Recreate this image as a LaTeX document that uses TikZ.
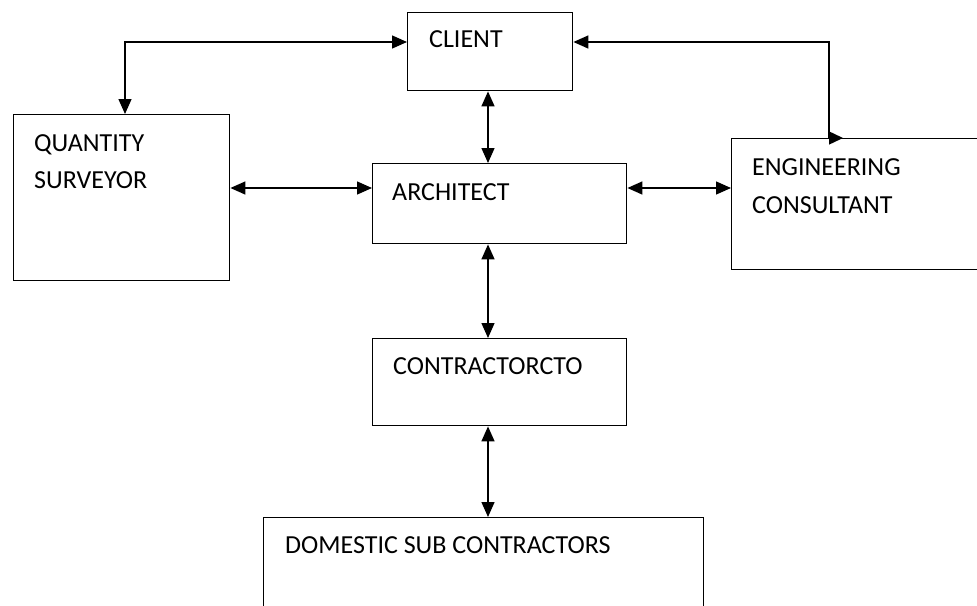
\documentclass[tikz,border=0pt]{standalone}
\usepackage{fontspec}
\setmainfont{Carlito}
\usetikzlibrary{arrows.meta,calc}

\begin{document}
\begin{tikzpicture}[x=1pt,y=-1pt,
  box/.style={draw=black,line width=1.4pt,rectangle,inner sep=0pt,anchor=north west},
  lbl/.style={anchor=base west,inner sep=0pt,font=\fontsize{26}{31}\selectfont},
  link/.style={line width=1.4pt,{Triangle[length=15pt,width=13pt]}-{Triangle[length=15pt,width=13pt]}},
  backlink/.style={line width=1.4pt,{Triangle[length=15pt,width=13pt]}-},
  tip/.style={line width=1.4pt,-{Triangle[length=14pt,width=13pt]}}]
\useasboundingbox (0,0) rectangle (977,605);

% boxes
\node[box,minimum width=165pt,minimum height=78pt]  (client) at (407,12)  {};
\node[box,minimum width=216pt,minimum height=166pt] (qs)     at (13,114)  {};
\node[box,minimum width=254pt,minimum height=80pt]  (arch)   at (372,163) {};
\node[box,minimum width=259pt,minimum height=131pt] (eng)    at (731,138) {};
\node[box,minimum width=254pt,minimum height=87pt]  (contr)  at (372,338) {};
\node[box,minimum width=440pt,minimum height=110pt] (dom)    at (263,517) {};

% labels
\node[lbl] (clientT) at (429,47)  {CLIENT};
\node[lbl] (qsT1)    at (34,151)  {QUANTITY};
\node[lbl] (qsT2)    at (34,188)  {SURVEYOR};
\node[lbl] (archT)   at (392,200) {ARCHITECT};
\node[lbl] (engT1)   at (752,175) {ENGINEERING};
\node[lbl] (engT2)   at (752,213) {CONSULTANT};
\node[lbl] (contrT)  at (393,374) {CONTRACTORCTO};
\node[lbl] (domT)    at (285,553) {DOMESTIC SUB CONTRACTORS};

% guide lines for the connectors
\coordinate (vcol) at (488,0);
\coordinate (hrow) at (0,188);
\coordinate (qscol) at (125,0);
\coordinate (engcol) at (829,0);
\coordinate (toprow) at (0,42);

% connectors
\draw[link] (qs.north -| qscol) |- (client.west |- toprow);
\draw[backlink] (client.east |- toprow) -| (eng.north -| engcol);
\draw[tip] (eng.north -| engcol) -- ++(14,0);
\draw[link] (client.south -| vcol) -- (arch.north -| vcol);
\draw[link] (qs.east |- hrow) -- (arch.west |- hrow);
\draw[link] (arch.east |- hrow) -- (eng.west |- hrow);
\draw[link] (arch.south -| vcol) -- (contr.north -| vcol);
\draw[link] (contr.south -| vcol) -- (dom.north -| vcol);
\end{tikzpicture}
\end{document}
